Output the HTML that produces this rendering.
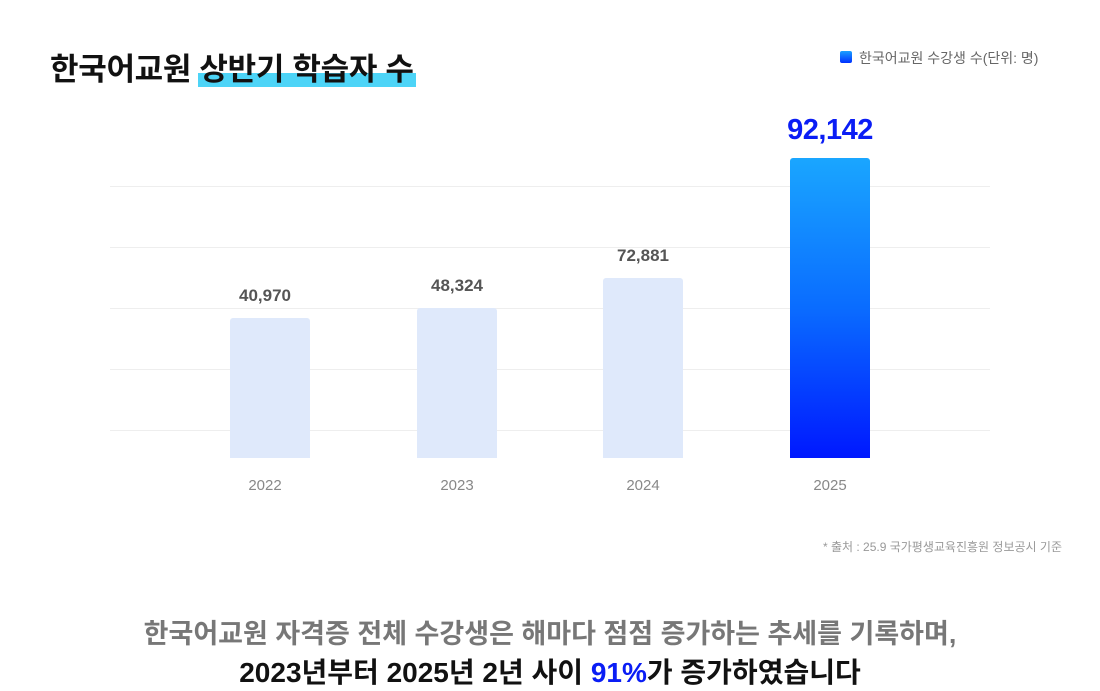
<!DOCTYPE html>
<html><head><meta charset="utf-8"><style>
body{margin:0;width:1100px;height:684px;background:#fff;position:relative;overflow:hidden;font-family:"Liberation Sans","Noto Sans CJK KR",sans-serif}
.a{position:absolute}
.g{position:absolute;left:110px;width:880px;height:1px;background:#eeeeee}
.bar{position:absolute;width:80px;bottom:226px;background:#dfe9fb;border-radius:3px 3px 0 0}
.v{position:absolute;width:120px;text-align:center;font-size:17px;font-weight:bold;color:#555}
.x{position:absolute;width:120px;text-align:center;font-size:15px;color:#888;top:477px}
</style></head><body>
<div class="a" style="left:198px;top:73px;width:218px;height:14px;background:#4dd4f7"></div>
<div class="a" style="left:50px;top:44px;font-size:31px;font-weight:bold;color:#111;letter-spacing:-0.3px">한국어교원 상반기 학습자 수</div>
<div class="a" style="left:840px;top:51px;width:12px;height:12px;border-radius:2px;background:linear-gradient(#1aa0ff,#0030ff)"></div>
<div class="a" style="left:859px;top:48px;font-size:14px;color:#666">한국어교원 수강생 수(단위: 명)</div>
<div class="g" style="top:186px"></div><div class="g" style="top:247px"></div><div class="g" style="top:308px"></div><div class="g" style="top:369px"></div><div class="g" style="top:430px"></div>
<div class="bar" style="left:230px;height:140px"></div>
<div class="bar" style="left:417px;height:150px"></div>
<div class="bar" style="left:603px;height:180px"></div>
<div class="bar" style="left:790px;height:300px;background:linear-gradient(#1aa6ff,#0a6cff 50%,#0018ff)"></div>
<div class="v" style="left:205px;top:286px">40,970</div>
<div class="v" style="left:397px;top:276px">48,324</div>
<div class="v" style="left:583px;top:246px">72,881</div>
<div class="v" style="left:770px;top:114px;font-size:29px;color:#0a1df5;letter-spacing:-0.5px">92,142</div>
<div class="x" style="left:205px">2022</div><div class="x" style="left:397px">2023</div><div class="x" style="left:583px">2024</div><div class="x" style="left:770px">2025</div>
<div class="a" style="right:38px;top:538px;font-size:12px;color:#999">* 출처 : 25.9 국가평생교육진흥원 정보공시 기준</div>
<div class="a" style="left:0;width:1100px;text-align:center;top:612px;font-size:27px;font-weight:bold;color:#777">한국어교원 자격증 전체 수강생은 해마다 점점 증가하는 추세를 기록하며,</div>
<div class="a" style="left:0;width:1100px;text-align:center;top:651px;font-size:28px;font-weight:bold;color:#111">2023년부터 2025년 2년 사이 <span style="color:#0a1df5">91%</span>가 증가하였습니다</div>
</body></html>
